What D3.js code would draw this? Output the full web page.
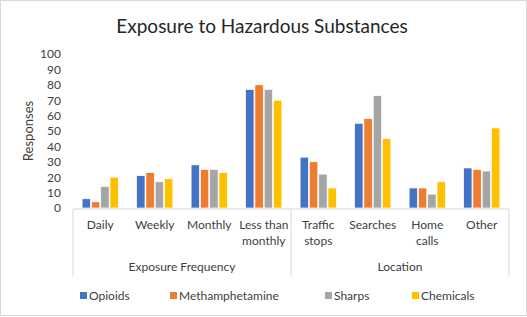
<!DOCTYPE html>
<html>
<head>
<meta charset="utf-8">
<script src="https://cdn.jsdelivr.net/npm/d3@7"></script>
<style>
  body { margin: 0; background: #fff; }
  text { font-family: Lato, "Open Sans", sans-serif; fill: #404040; }
</style>
</head>
<body>
<div id="canvas"></div>
<script>
const categories = ["Daily", "Weekly", "Monthly", "Less than|monthly", "Traffic|stops", "Searches", "Home|calls", "Other"];
const groups = [
  { name: "Exposure Frequency", from: 0, to: 4 },
  { name: "Location", from: 4, to: 8 }
];
const seriesNames = ["Opioids", "Methamphetamine", "Sharps", "Chemicals"];
const opioids = [6, 21, 28, 77, 33, 55, 13, 26];
const meth = [4, 23, 25, 80, 30, 58, 13, 25];
const sharps = [14, 17, 25, 77, 22, 73, 9, 24];
const chemicals = [20, 19, 23, 70, 13, 45, 17, 52];
const yTicks = d3.range(0, 101, 10);
const colors = ["#4472C4", "#ED7D31", "#A5A5A5", "#FFC000"];

const w = 527, h = 317;
const margin = { top: 54, left: 73, right: 18, bottom: 109 };
const width = w - margin.left - margin.right;
const height = h - margin.top - margin.bottom;

const values = [opioids, meth, sharps, chemicals];

const svg = d3.select("#canvas").append("svg")
  .attr("width", w).attr("height", h);

svg.append("rect")
  .attr("x", 0.5).attr("y", 0.5)
  .attr("width", w - 1).attr("height", h - 2)
  .attr("fill", "#fff").attr("stroke", "#d9d9d9");

svg.append("text")
  .attr("x", 262).attr("y", 33)
  .attr("text-anchor", "middle")
  .attr("font-size", 19)
  .style("fill", "#262626")
  .text("Exposure to Hazardous Substances");

const g = svg.append("g").attr("transform", `translate(${margin.left},${margin.top})`);

const x0 = d3.scaleBand().domain(d3.range(categories.length)).range([0, width]).paddingInner(0.3).paddingOuter(0.15);
const x1 = d3.scaleBand().domain(d3.range(seriesNames.length)).range([0, x0.bandwidth()]).padding(0.1);
const y = d3.scaleLinear().domain([0, 100]).range([height, 0]);
const xc = d3.scaleBand().domain(d3.range(categories.length)).range([0, width]);

// y axis labels
const yAxis = d3.axisLeft(y).tickValues(yTicks).tickSize(0).tickPadding(12);
const ya = g.append("g").call(yAxis);
ya.select(".domain").remove();
ya.selectAll("text").attr("font-size", 12).style("font-family", "Lato, sans-serif").style("fill", "#404040");

g.append("text")
  .attr("transform", `translate(-40,${height / 2}) rotate(-90)`)
  .attr("text-anchor", "middle")
  .attr("font-size", 13)
  .text("Responses");

// bars
seriesNames.forEach((s, si) => {
  g.append("g").selectAll("rect")
    .data(values[si])
    .enter().append("rect")
    .attr("x", (d, i) => x0(i) + x1(si))
    .attr("y", d => y(d))
    .attr("width", x1.bandwidth())
    .attr("height", d => height - y(d))
    .attr("fill", colors[si])
    .attr("stroke", "#fff")
    .attr("stroke-width", 0.7);
});

// category axis
const ax = g.append("g").attr("transform", `translate(0,${height + 1})`);
ax.append("line").attr("x1", 0).attr("x2", width).attr("y1", 0).attr("y2", 0)
  .attr("stroke", "#d9d9d9");
const bounds = [0, 4, 8];
bounds.forEach(b => {
  const bx = b < categories.length ? xc(b) : width;
  ax.append("line")
    .attr("x1", bx).attr("x2", bx)
    .attr("y1", 0).attr("y2", 67)
    .attr("stroke", "#d9d9d9");
});

categories.forEach((c, i) => {
  const lines = c.split("|");
  const t = ax.append("text")
    .attr("x", xc(i) + xc.bandwidth() / 2)
    .attr("y", 20)
    .attr("text-anchor", "middle")
    .attr("font-size", 12);
  lines.forEach((l, li) => {
    t.append("tspan").attr("x", xc(i) + xc.bandwidth() / 2).attr("dy", li === 0 ? 0 : 16).text(l);
  });
});

groups.forEach(gr => {
  const a = xc(gr.from);
  const b = gr.to < categories.length ? xc(gr.to) : width;
  ax.append("text")
    .attr("x", (a + b) / 2)
    .attr("y", 62)
    .attr("text-anchor", "middle")
    .attr("font-size", 12)
    .text(gr.name);
});

// legend
const legendX = [80, 170, 325, 412];
const lg = svg.append("g").attr("transform", "translate(0,296)");
seriesNames.forEach((s, i) => {
  lg.append("rect").attr("x", legendX[i]).attr("y", -4).attr("width", 7).attr("height", 7).attr("fill", colors[i]);
  lg.append("text").attr("x", legendX[i] + 9).attr("y", 4).attr("font-size", 12).text(s);
});
</script>
</body>
</html>
